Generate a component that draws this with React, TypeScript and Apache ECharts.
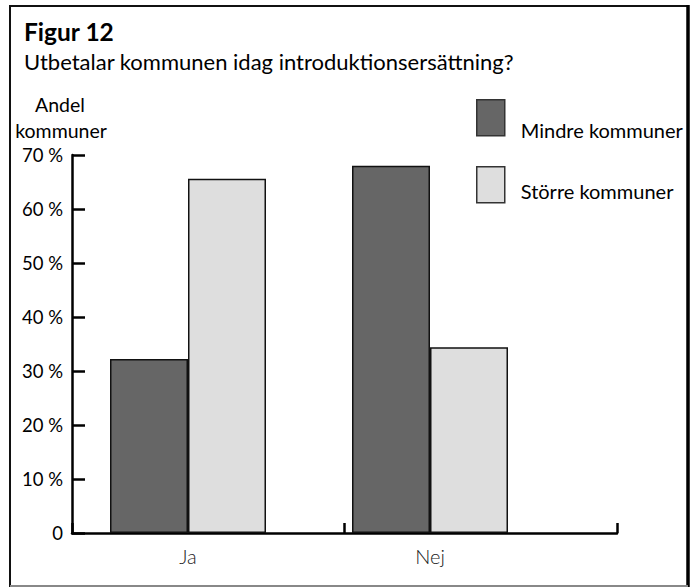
import React, { useEffect, useRef } from "react";
import * as echarts from "echarts";

const categories = ["Ja", "Nej"];
const mindreKommuner = [32.2, 68.0];
const storreKommuner = [65.6, 34.4];
const yTicks = [0, 10, 20, 30, 40, 50, 60, 70];
const seriesNames = ["Mindre kommuner", "Större kommuner"];

const FONT = "Lato, 'Open Sans', sans-serif";

function legendFor(name: string, top: number, shift: number) {
  return {
    orient: "vertical",
    left: 476,
    top,
    padding: 0,
    itemWidth: 28,
    itemHeight: 36,
    icon: "rect",
    itemStyle: { borderColor: "#333", borderWidth: 1.5 },
    formatter: (n: string) => `{t|${n}}`,
    textStyle: {
      fontFamily: FONT,
      fontSize: 20,
      color: "#000",
      rich: {
        t: {
          fontFamily: FONT,
          fontSize: 20,
          color: "#000",
          padding: [shift * 2, 0, 0, 11],
        },
      },
    },
    data: [name],
  };
}

export default function App() {
  const ref = useRef<HTMLDivElement>(null);
  useEffect(() => {
    if (!ref.current) return;
    const chart = echarts.init(ref.current, null, { renderer: "svg" });
    const yMin = yTicks[0];
    const yMax = yTicks[yTicks.length - 1];
    const option: any = {
      animation: false,
      backgroundColor: "#ffffff",
      textStyle: { fontFamily: FONT },
      grid: [
        { left: 72, right: 74, top: 155, bottom: 55, containLabel: false },
        { left: 67, width: 484, top: 155, bottom: 55, containLabel: false },
      ],
      xAxis: [
        {
          type: "value",
          gridIndex: 0,
          min: 0,
          max: 2,
          interval: 1,
          axisLine: { show: true, lineStyle: { color: "#000", width: 2.5 } },
          axisTick: { show: true, inside: true, length: 10, lineStyle: { color: "#000", width: 2.5 } },
          axisLabel: { show: false },
          splitLine: { show: false },
        },
        {
          type: "category",
          gridIndex: 1,
          data: categories,
          axisLine: { show: false },
          axisTick: { show: false },
          axisLabel: {
            show: true,
            margin: 13,
            color: "#222",
            fontSize: 20,
            fontWeight: 300,
            fontFamily: FONT,
          },
          splitLine: { show: false },
        },
      ],
      yAxis: [
        {
          type: "value",
          gridIndex: 0,
          min: yMin,
          max: yMax,
          interval: 10,
          axisLine: { show: true, lineStyle: { color: "#000", width: 2.5 } },
          axisTick: { show: true, inside: true, length: 13, lineStyle: { color: "#000", width: 2.5 } },
          axisLabel: {
            margin: 9,
            color: "#000",
            fontSize: 18.5,
            fontFamily: FONT,
            formatter: (v: number) => (v === 0 ? "0" : v + " %"),
          },
          splitLine: { show: false },
        },
        {
          type: "value",
          gridIndex: 1,
          min: yMin,
          max: yMax,
          interval: 10,
          show: false,
          splitLine: { show: false },
        },
      ],
      legend: [legendFor(seriesNames[0], 99, 12), legendFor(seriesNames[1], 166, 6)],
      series: [
        {
          name: seriesNames[0],
          type: "bar",
          xAxisIndex: 1,
          yAxisIndex: 1,
          data: mindreKommuner,
          barWidth: 78,
          barGap: "0%",
          itemStyle: { color: "#666666", borderColor: "#111", borderWidth: 1.5 },
        },
        {
          name: seriesNames[1],
          type: "bar",
          xAxisIndex: 1,
          yAxisIndex: 1,
          data: storreKommuner,
          barWidth: 78,
          barGap: "0%",
          itemStyle: { color: "#dedede", borderColor: "#111", borderWidth: 1.5 },
        },
      ],
      graphic: [
        {
          type: "line",
          shape: { x1: 10, y1: 6, x2: 688, y2: 6 },
          style: { stroke: "#111", lineWidth: 2 },
          silent: true,
        },
        {
          type: "line",
          shape: { x1: 10, y1: 5, x2: 10, y2: 587 },
          style: { stroke: "#111", lineWidth: 2 },
          silent: true,
        },
        {
          type: "line",
          shape: { x1: 688, y1: 5, x2: 688, y2: 587 },
          style: { stroke: "#000", lineWidth: 3.5 },
          silent: true,
        },
        {
          type: "line",
          shape: { x1: 10, y1: 586, x2: 688, y2: 586 },
          style: { stroke: "#888", lineWidth: 2 },
          silent: true,
        },
        {
          type: "text",
          x: 24,
          y: 31,
          style: {
            text: "Figur 12",
            fontFamily: FONT,
            fontSize: 24.5,
            fontWeight: "bold",
            fill: "#000",
            verticalAlign: "middle",
            textAlign: "left",
          },
        },
        {
          type: "text",
          x: 24,
          y: 61,
          style: {
            text: "Utbetalar kommunen idag introduktionsersättning?",
            fontFamily: FONT,
            fontSize: 22,
            fill: "#000",
            verticalAlign: "middle",
            textAlign: "left",
          },
        },
        {
          type: "text",
          x: 60,
          y: 104,
          style: {
            text: "Andel",
            fontFamily: FONT,
            fontSize: 19.5,
            fill: "#000",
            verticalAlign: "middle",
            textAlign: "center",
          },
        },
        {
          type: "text",
          x: 61,
          y: 130,
          style: {
            text: "kommuner",
            fontFamily: FONT,
            fontSize: 19.5,
            fill: "#000",
            verticalAlign: "middle",
            textAlign: "center",
          },
        },
      ],
    };
    chart.setOption(option);
    return () => chart.dispose();
  }, []);
  return (
    <div
      ref={ref}
      style={{ position: "fixed", left: 0, top: 0, width: 691, height: 588 }}
    />
  );
}
